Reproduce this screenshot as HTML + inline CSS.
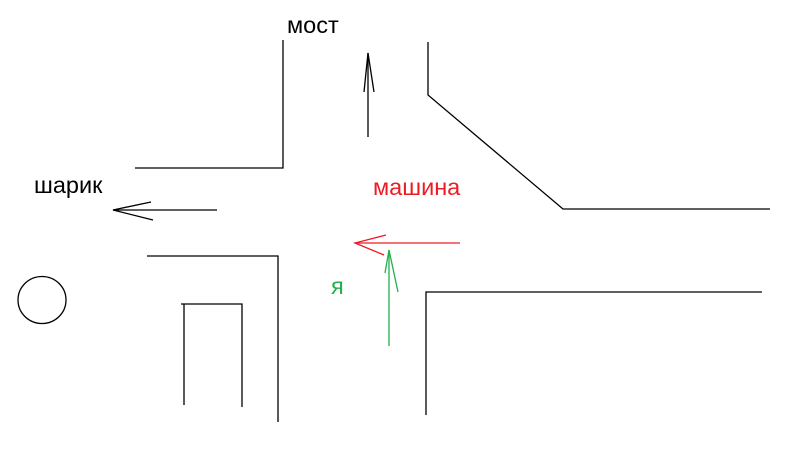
<!DOCTYPE html>
<html><head><meta charset="utf-8"><style>
html,body{margin:0;padding:0;background:#fff;width:800px;height:450px;overflow:hidden}
svg{display:block}
text{font-family:"Liberation Sans",sans-serif;font-size:23.5px}
</style></head><body>
<svg width="800" height="450" viewBox="0 0 800 450" xmlns="http://www.w3.org/2000/svg">
<g stroke="#000" stroke-width="1.3" fill="none">
<polyline points="283,40 283,168 135,168"/>
<polyline points="428,42 428,95 563,209 770,209"/>
<polyline points="762,292 426,292 426,415"/>
<polyline points="147,256 278,256 278,422"/>
<polyline points="184,405 184,304"/>
<polyline points="181,304 242,304 242,407"/>
<ellipse cx="42" cy="300" rx="24" ry="23.5"/>
<line x1="368" y1="137" x2="368" y2="53"/>
<polyline points="364,92 368,53 374,92"/>
<line x1="113" y1="210" x2="217" y2="210"/>
<polyline points="151,202 113,210 153,220"/>
</g>
<g stroke="#ed1c24" stroke-width="1.3" fill="none">
<line x1="355" y1="243" x2="460" y2="243"/>
<polyline points="386,235 355,243 384,255"/>
</g>
<g stroke="#22b14c" stroke-width="1.3" fill="none">
<line x1="389" y1="346" x2="389" y2="250"/>
<polyline points="385,273 389,250 398,292"/>
</g>
<text x="287" y="33" fill="#000">мост</text>
<text x="34" y="193" fill="#000">шарик</text>
<text x="373" y="195" fill="#ed1c24">машина</text>
<text x="331" y="294" fill="#22b14c">я</text>
</svg>
</body></html>
